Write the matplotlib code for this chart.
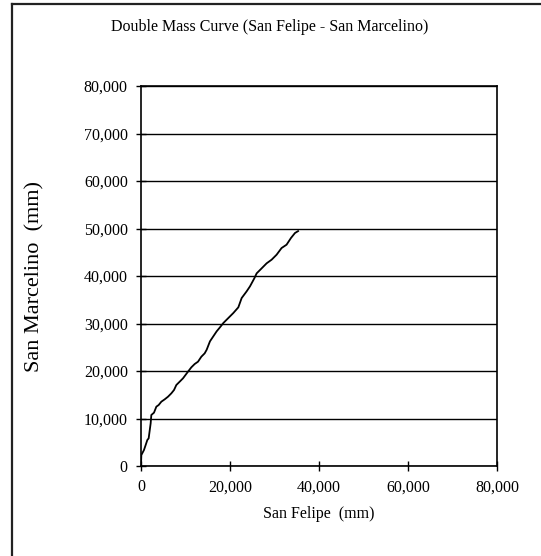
import matplotlib
matplotlib.use("Agg")
import matplotlib.pyplot as plt
from matplotlib.lines import Line2D
from matplotlib.ticker import FuncFormatter

plt.rcParams['font.family'] = ['Liberation Serif', 'DejaVu Serif']

# cumulative rainfall (mm)
san_felipe = [0, 75, 670, 970, 1420, 1720, 2170, 2320, 2920, 3450, 3970, 4570,
              5320, 6070, 6820, 7420, 7940, 8690, 9440, 10560, 11310, 12060,
              12810, 13560, 14310, 14760, 15500, 16250, 17000, 17750, 18500,
              19620, 20740, 21870, 22620, 23740, 24490, 25460, 25990, 27110,
              28230, 29350, 30470, 31590, 32710, 33700, 34600, 35300]
san_marcelino = [200, 2300, 3370, 4200, 5470, 5820, 8980, 10740, 11230, 12490,
                 12840, 13540, 14030, 14590, 15300, 16000, 17050, 17750, 18460,
                 19860, 20770, 21470, 21960, 23010, 23720, 24480, 26250, 27300,
                 28350, 29200, 30100, 31150, 32200, 33400, 35360, 36770, 37820,
                 39500, 40560, 41610, 42670, 43430, 44480, 45890, 46590, 48000,
                 49050, 49450]

x_ticks = [0, 20000, 40000, 60000, 80000]
y_ticks = [0, 10000, 20000, 30000, 40000, 50000, 60000, 70000, 80000]

W, H = 541, 556
fig = plt.figure(figsize=(W / 100, H / 100), dpi=100)

# chart area border (only left and top edges show in the crop)
fig.add_artist(Line2D([12 / W, 12 / W], [0, 1 - 4 / H], color='#222222', lw=1.6))
fig.add_artist(Line2D([12 / W, 1], [1 - 4 / H, 1 - 4 / H], color='#222222', lw=1.6))

ax = fig.add_axes([141 / W, 1 - 466 / H, 356 / W, 380 / H])
ax.plot(san_felipe, san_marcelino, color='black', lw=1.3)

ax.set_xlim(0, 80000)
ax.set_ylim(0, 80000)
ax.set_xticks(x_ticks)
ax.set_yticks(y_ticks)
fmt = FuncFormatter(lambda v, p: f"{int(v):,}")
ax.xaxis.set_major_formatter(fmt)
ax.yaxis.set_major_formatter(fmt)
ax.tick_params(direction='inout', length=7, width=1, labelsize=11.5, pad=6, colors='black')
ax.yaxis.grid(True, color='black', lw=1)
ax.set_axisbelow(True)
for s in ax.spines.values():
    s.set_linewidth(1.2)
    s.set_color('black')

ax.set_xlabel('San Felipe  (mm)', fontsize=11.5, labelpad=8)
ax.set_ylabel('San Marcelino  (mm)', fontsize=16)
ax.yaxis.set_label_coords(-0.27, 0.5)
fig.text(270 / W, 1 - 27 / H, 'Double Mass Curve (San Felipe - San Marcelino)',
         ha='center', va='center', fontsize=11.5)

fig.savefig('out.png', dpi=100)
